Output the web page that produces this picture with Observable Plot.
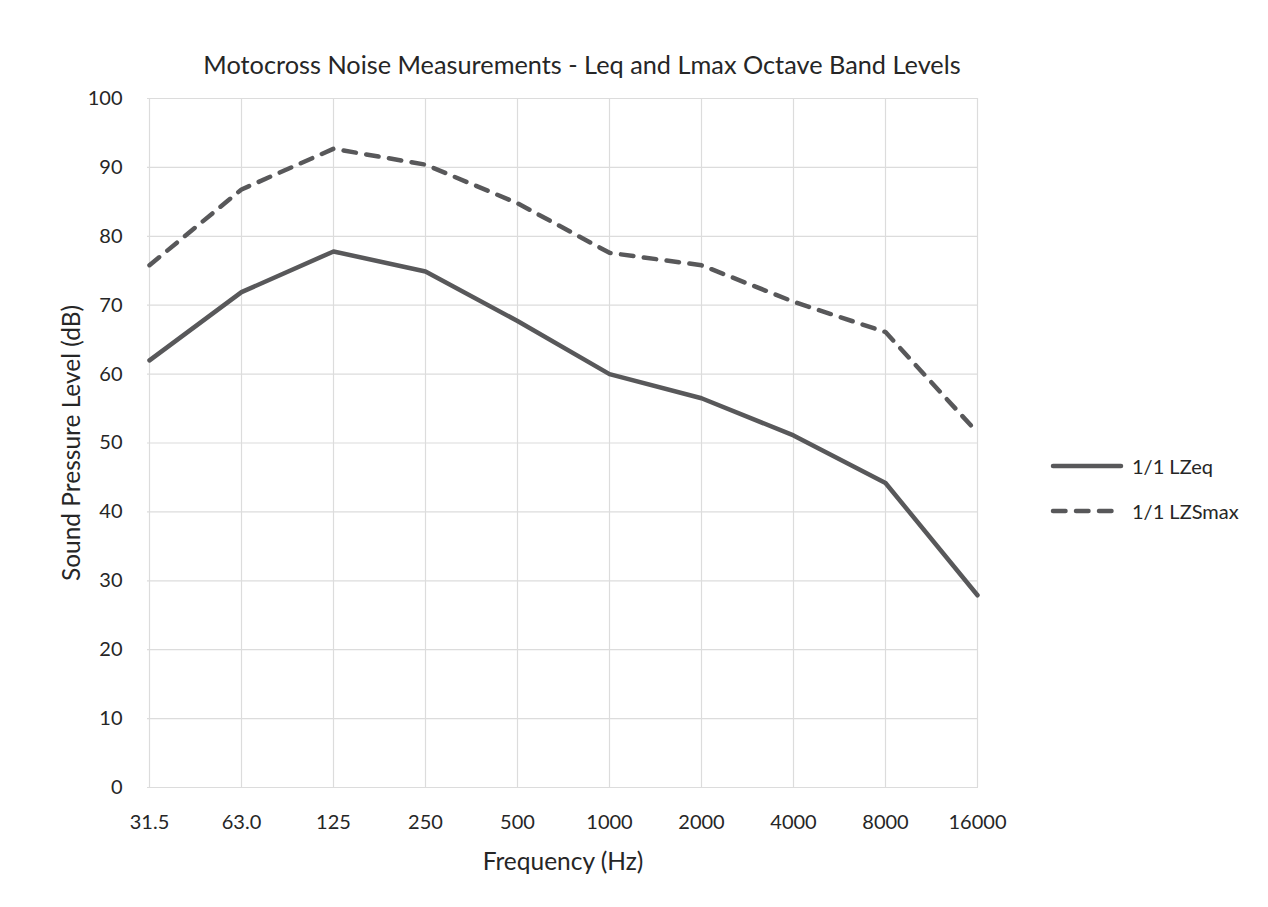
<!DOCTYPE html>
<html>
<head>
<meta charset="utf-8">
<script src="https://cdn.jsdelivr.net/npm/d3@7"></script>
<script src="https://cdn.jsdelivr.net/npm/@observablehq/plot@0.6"></script>
<style>
  html, body { margin: 0; padding: 0; background: #fff; }
  body { width: 1268px; height: 907px; position: relative; overflow: hidden; font-family: Lato, "Open Sans", sans-serif; color: #222; }
  #title { position: absolute; left: 0; top: 49px; width: 1164px; text-align: center; font-size: 25.3px; color: #262626; line-height: 30px; }
  #chart { position: absolute; left: 0; top: 70px; }
  #legend { position: absolute; left: 1050px; top: 443px; font-size: 20px; color: #262626; }
  .item { display: flex; align-items: center; height: 45px; }
  .item svg { margin-right: 6px; }
  g[aria-label="x-axis label"] text, g[aria-label="y-axis label"] text { font-size: 24.5px; }
</style>
</head>
<body>
<div id="title">Motocross Noise Measurements - Leq and Lmax Octave Band Levels</div>
<div id="chart"></div>
<div id="legend"></div>
<script>
const frequencies = ["31.5", "63.0", "125", "250", "500", "1000", "2000", "4000", "8000", "16000"];
const lzeq = [62.0, 71.9, 77.8, 74.9, 67.7, 60.0, 56.5, 51.1, 44.2, 27.9];
const lzsmax = [75.8, 86.8, 92.7, 90.4, 84.8, 77.6, 75.8, 70.5, 66.1, 51.5];
const seriesNames = ["1/1 LZeq", "1/1 LZSmax"];
const yTicks = [0, 10, 20, 30, 40, 50, 60, 70, 80, 90, 100];

const lineColor = "#58585a";
const dash = "12.5,10.5";

const rows = [
  ...frequencies.map((f, i) => ({freq: f, value: lzeq[i], series: seriesNames[0]})),
  ...frequencies.map((f, i) => ({freq: f, value: lzsmax[i], series: seriesNames[1]}))
];

const chart = Plot.plot({
  width: 1268,
  height: 837,
  marginLeft: 147,
  marginRight: 290,
  marginTop: 28,
  marginBottom: 120,
  style: {fontFamily: "Lato, 'Open Sans', sans-serif", fontSize: "20px", color: "#262626", background: "transparent"},
  x: {type: "point", domain: frequencies, padding: 0},
  y: {domain: [0, 100]},
  marks: [
    Plot.gridX(frequencies, {stroke: "#dcdcdc", strokeOpacity: 1, strokeWidth: 1.2}),
    Plot.gridY(yTicks, {stroke: "#dcdcdc", strokeOpacity: 1, strokeWidth: 1.2}),
    Plot.axisX({tickSize: 0, tickPadding: 27, label: "Frequency (Hz)", labelAnchor: "center", labelOffset: 82, fontSize: 20}),
    Plot.axisY(yTicks, {tickSize: 0, tickPadding: 25, label: "Sound Pressure Level (dB)", labelAnchor: "center", labelOffset: 85, labelArrow: "none", fontSize: 20}),
    Plot.line(rows.filter(d => d.series === seriesNames[0]), {x: "freq", y: "value", stroke: lineColor, strokeWidth: 4.5, strokeLinejoin: "round", strokeLinecap: "round"}),
    Plot.line(rows.filter(d => d.series === seriesNames[1]), {x: "freq", y: "value", stroke: lineColor, strokeWidth: 4.5, strokeDasharray: dash, strokeLinejoin: "round", strokeLinecap: "round"})
  ]
});
document.getElementById("chart").appendChild(chart);

const legend = document.getElementById("legend");
seriesNames.forEach((name, i) => {
  const item = document.createElement("div");
  item.className = "item";
  item.innerHTML = `<svg width="76" height="10"><line x1="3" y1="5" x2="71" y2="5" stroke="${lineColor}" stroke-width="4.5" stroke-linecap="round" ${i === 1 ? `stroke-dasharray="${dash}"` : ""}/></svg><span>${name}</span>`;
  legend.appendChild(item);
});
</script>
</body>
</html>
